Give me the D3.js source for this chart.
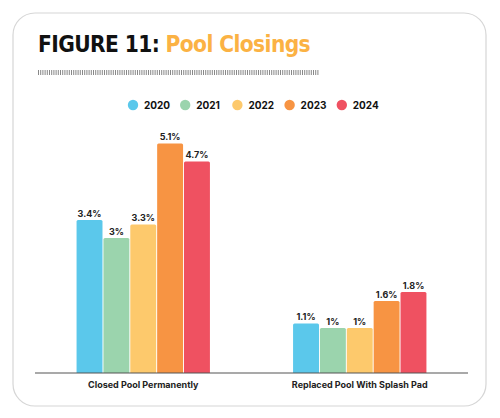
<!DOCTYPE html>
<html><head><meta charset="utf-8">
<script src="https://cdn.jsdelivr.net/npm/d3@7"></script>
<style>body{margin:0;background:#fff}svg{display:block}</style>
</head><body>
<script>
const categories = ["Closed Pool Permanently", "Replaced Pool With Splash Pad"];
const years = ["2020", "2021", "2022", "2023", "2024"];
const values2020 = [3.4, 1.1];
const values2021 = [3.0, 1.0];
const values2022 = [3.3, 1.0];
const values2023 = [5.1, 1.6];
const values2024 = [4.7, 1.8];
const valueLabels = [["3.4%","1.1%"],["3%","1%"],["3.3%","1%"],["5.1%","1.6%"],["4.7%","1.8%"]];
const colors = ["#5bc8eb", "#9bd4ad", "#fdc96c", "#f79443", "#ef5161"];
const series = [values2020, values2021, values2022, values2023, values2024];

const W = 500, H = 418;
const svg = d3.select("body").append("svg").attr("width", W).attr("height", H);

// card
svg.append("rect").attr("x", 13).attr("y", 13).attr("width", 473).attr("height", 393)
  .attr("rx", 22).attr("fill", "#fff").attr("stroke", "#d6d6d6").attr("stroke-width", 1.2);

// title
const title = svg.append("text").attr("x", 38).attr("y", 52)
  .attr("font-family", "'DejaVu Sans Condensed', 'DejaVu Sans', sans-serif")
  .attr("font-weight", "bold").attr("font-size", 22.5).attr("letter-spacing", -0.6);
title.append("tspan").attr("fill", "#111").text("FIGURE 11: ");
title.append("tspan").attr("fill", "#fbb244").text("Pool Closings");

// barcode line
const bc = svg.append("g");
for (let x = 38; x < 318; x += 2.2) {
  bc.append("rect").attr("x", x).attr("y", 70).attr("width", 1).attr("height", 5)
    .attr("fill", "#888");
}

// legend
const leg = svg.append("g");
years.forEach((y, i) => {
  const cx = 133 + i * 52.2;
  leg.append("circle").attr("cx", cx).attr("cy", 105).attr("r", 5.2).attr("fill", colors[i]);
  leg.append("text").attr("x", cx + 11).attr("y", 108.5)
    .attr("font-family", "Inter, Roboto, sans-serif").attr("font-weight", "bold")
    .attr("font-size", 10).attr("fill", "#111").text(y);
});

// scales
const x0 = d3.scaleBand().domain(categories).range([35, 468]).paddingInner(0.384).paddingOuter(0.192);
const x1 = d3.scaleBand().domain(years).range([0, x0.bandwidth()]).paddingInner(0.035);
const yS = d3.scaleLinear().domain([0, 6]).range([373, 103]);

const groups = svg.append("g").selectAll("g").data(categories).join("g")
  .attr("transform", d => `translate(${x0(d)},0)`);

groups.each(function(cat, ci) {
  const g = d3.select(this);
  years.forEach((yr, si) => {
    const v = series[si][ci];
    const bx = x1(yr), bw = x1.bandwidth();
    const top = yS(v), bottom = yS(0);
    const r = 1.5;
    g.append("path")
      .attr("d", `M${bx},${bottom}V${top + r}Q${bx},${top} ${bx + r},${top}H${bx + bw - r}Q${bx + bw},${top} ${bx + bw},${top + r}V${bottom}Z`)
      .attr("fill", colors[si]);
    g.append("text").attr("x", bx + bw / 2).attr("y", top - 3.5)
      .attr("text-anchor", "middle")
      .attr("font-family", "Inter, Roboto, sans-serif").attr("font-weight", "bold")
      .attr("font-size", 9).attr("fill", "#222").text(valueLabels[si][ci]);
  });
});

// axis
const axis = svg.append("g").attr("transform", "translate(0,373)")
  .call(d3.axisBottom(x0).tickSize(0).tickPadding(9));
axis.select(".domain").attr("d", "M35,0H468").attr("stroke", "#555").attr("stroke-width", 1.2);
axis.selectAll("text").attr("font-family", "Inter, Roboto, sans-serif").attr("font-weight", "bold")
  .attr("font-size", 9).attr("fill", "#222");
</script>
</body></html>
